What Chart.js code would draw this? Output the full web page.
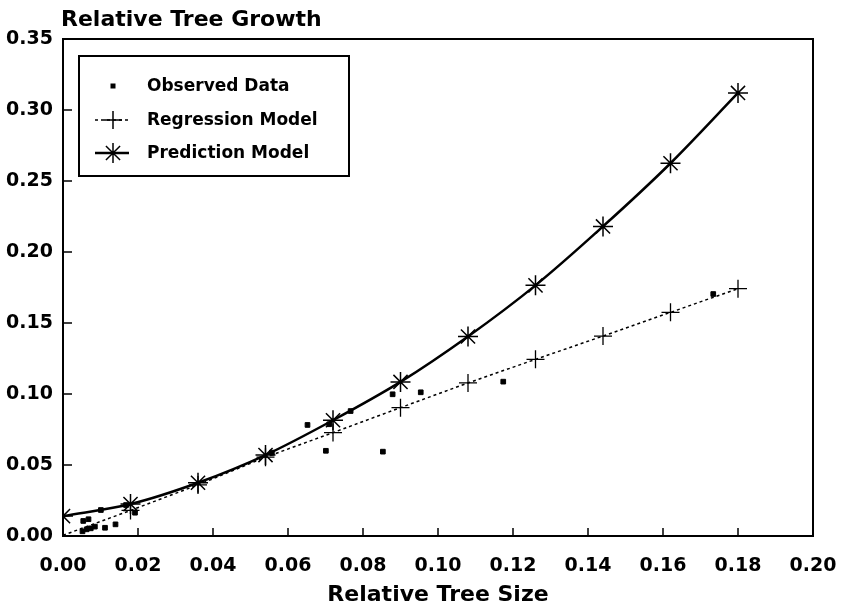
<!DOCTYPE html>
<html>
<head>
<meta charset="utf-8">
<script src="https://cdn.jsdelivr.net/npm/chart.js@4/dist/chart.umd.min.js"></script>
<style>
  html,body{margin:0;padding:0;background:#fff;}
  #wrap{width:845px;height:611px;position:relative;}
</style>
</head>
<body>
<div id="wrap"><canvas id="c" width="845" height="611"></canvas></div>
<script>
// ---- data ----
const obsX = [0.0052,0.0054,0.0063,0.0068,0.0074,0.0085,0.0101,0.0112,0.0140,0.0168,0.0192,0.0557,0.0652,0.0701,0.0710,0.0767,0.0853,0.0879,0.0954,0.1174,0.1734];
const obsY = [0.0033,0.0106,0.0047,0.0118,0.0054,0.0066,0.0183,0.0058,0.0082,0.0218,0.0164,0.0587,0.0782,0.0600,0.0787,0.0880,0.0594,0.0998,0.1012,0.1087,0.1704];
const modelX = [0,0.018,0.036,0.054,0.072,0.09,0.108,0.126,0.144,0.162,0.18];
const regressionY = [0.0005,0.018,0.036,0.0555,0.0728,0.0904,0.1078,0.1244,0.1408,0.1575,0.1742];
const predictionY = [0.014,0.0225,0.0375,0.057,0.0815,0.1085,0.1405,0.1765,0.218,0.2625,0.312];
const xTicks = [0,0.02,0.04,0.06,0.08,0.10,0.12,0.14,0.16,0.18,0.20];
const yTicks = [0,0.05,0.10,0.15,0.20,0.25,0.30,0.35];
const seriesNames = ['Observed Data','Regression Model','Prediction Model'];
const yTitle = 'Relative Tree Growth';
const xTitle = 'Relative Tree Size';

const FONT = "'DejaVu Sans', sans-serif";

const pts = (xs, ys) => xs.map((x,i)=>({x:x,y:ys[i]}));

const framePlugin = {
  id:'frame',
  afterDraw(chart){
    const ctx = chart.ctx, a = chart.chartArea;
    const xs = chart.scales.x, ys = chart.scales.y;
    ctx.save();
    ctx.strokeStyle = '#000';
    ctx.lineWidth = 2;
    ctx.setLineDash([]);
    ctx.strokeRect(a.left, a.top, a.right - a.left, a.bottom - a.top);
    // inward tick marks
    ctx.lineWidth = 1.5;
    ctx.beginPath();
    yTicks.forEach(v=>{
      const py = Math.round(ys.getPixelForValue(v));
      ctx.moveTo(a.left, py); ctx.lineTo(a.left + 9, py);
    });
    xTicks.forEach(v=>{
      const px = Math.round(xs.getPixelForValue(v));
      ctx.moveTo(px, a.bottom); ctx.lineTo(px, a.bottom - 8);
    });
    ctx.stroke();
    // y title on top-left
    ctx.fillStyle = '#000';
    ctx.font = "bold 22px " + FONT;
    ctx.textAlign = 'left';
    ctx.textBaseline = 'alphabetic';
    ctx.fillText(yTitle, 61, 26);
    // legend
    const L = 79, T = 56, R = 349, B = 176;
    ctx.fillStyle = '#fff';
    ctx.fillRect(L, T, R-L, B-T);
    ctx.lineWidth = 2;
    ctx.strokeRect(L, T, R-L, B-T);
    ctx.fillStyle = '#000';
    ctx.font = "bold 17px " + FONT;
    ctx.textBaseline = 'middle';
    const rows = [86, 120, 153];
    const tx = 147, sx0 = 95, sx1 = 129, sc = 113;
    // observed
    ctx.fillRect(sc-2.5, rows[0]-2.5, 5, 5);
    // regression
    ctx.lineWidth = 1.5;
    ctx.setLineDash([3,3]);
    ctx.beginPath(); ctx.moveTo(sx0, rows[1]); ctx.lineTo(sx1, rows[1]); ctx.stroke();
    ctx.setLineDash([]);
    ctx.beginPath();
    ctx.moveTo(sc-9, rows[1]); ctx.lineTo(sc+9, rows[1]);
    ctx.moveTo(sc, rows[1]-9); ctx.lineTo(sc, rows[1]+9);
    ctx.stroke();
    // prediction
    ctx.lineWidth = 2.5;
    ctx.beginPath(); ctx.moveTo(sx0, rows[2]); ctx.lineTo(sx1, rows[2]); ctx.stroke();
    ctx.lineWidth = 1.5;
    ctx.beginPath();
    const r = 10, d = r*Math.SQRT1_2;
    ctx.moveTo(sc, rows[2]-r); ctx.lineTo(sc, rows[2]+r);
    ctx.moveTo(sc-d, rows[2]-d); ctx.lineTo(sc+d, rows[2]+d);
    ctx.moveTo(sc-d, rows[2]+d); ctx.lineTo(sc+d, rows[2]-d);
    ctx.stroke();
    seriesNames.forEach((n,i)=>ctx.fillText(n, tx, rows[i]+1));
    ctx.restore();
  }
};

new Chart(document.getElementById('c'), {
  type:'scatter',
  data:{
    datasets:[
      {
        label: seriesNames[2],
        data: pts(modelX, predictionY),
        showLine:true,
        borderColor:'#000',
        backgroundColor:'#000',
        borderWidth:2.5,
        cubicInterpolationMode:'monotone',
        pointStyle:'star',
        pointRadius:10,
        pointBorderWidth:1.5,
        pointBorderColor:'#000',
        order:3
      },
      {
        label: seriesNames[1],
        data: pts(modelX, regressionY),
        showLine:true,
        borderColor:'#000',
        backgroundColor:'#000',
        borderWidth:1.5,
        borderDash:[3,3],
        pointStyle:'cross',
        pointRadius: modelX.map((x,i)=> i===0 ? 0 : 9),
        pointBorderWidth:1.3,
        pointBorderColor:'#000',
        order:2
      },
      {
        label: seriesNames[0],
        data: pts(obsX, obsY),
        showLine:false,
        pointStyle:'rect',
        pointRadius:3.3,
        pointBorderWidth:1,
        pointBorderColor:'#000',
        pointBackgroundColor:'#000',
        order:1
      }
    ]
  },
  plugins:[framePlugin],
  options:{
    responsive:false,
    animation:false,
    devicePixelRatio:1,
    layout:{padding:{left:0,right:32,top:39,bottom:0}},
    plugins:{legend:{display:false}, tooltip:{enabled:false}},
    scales:{
      x:{
        type:'linear', min:0, max:0.2,
        afterBuildTicks(scale){ scale.ticks = xTicks.map(v=>({value:v})); },
        afterFit(scale){ scale.height = 75; scale.paddingLeft = 0; scale.paddingRight = 0; },
        grid:{display:false, drawTicks:false},
        border:{display:false},
        ticks:{
          padding:19,
          color:'#000',
          font:{family:FONT, size:19, weight:'bold'},
          callback:(v)=>Number(v).toFixed(2),
          maxRotation:0, autoSkip:false
        },
        title:{
          display:true, text:xTitle, color:'#000',
          font:{family:FONT, size:22, weight:'bold'},
          padding:{top:0,bottom:3}
        }
      },
      y:{
        type:'linear', min:0, max:0.35,
        afterBuildTicks(scale){ scale.ticks = yTicks.map(v=>({value:v})); },
        afterFit(scale){ scale.width = 63; scale.paddingTop = 0; scale.paddingBottom = 0; },
        grid:{display:false, drawTicks:false},
        border:{display:false},
        ticks:{
          padding:10,
          color:'#000',
          font:{family:FONT, size:19, weight:'bold'},
          callback:(v)=>Number(v).toFixed(2),
          autoSkip:false
        }
      }
    }
  }
});
</script>
</body>
</html>
